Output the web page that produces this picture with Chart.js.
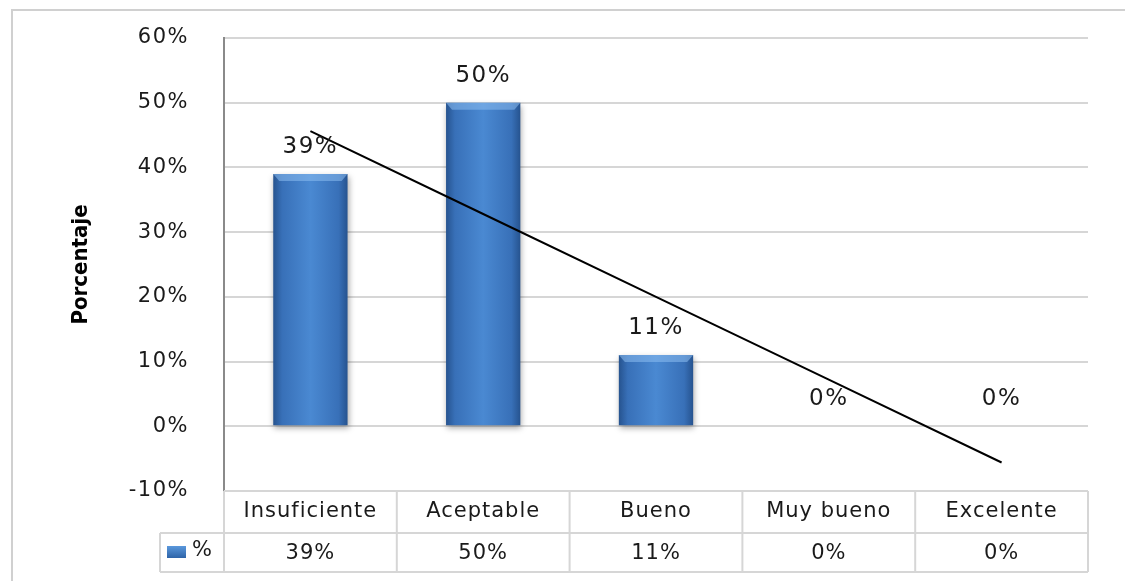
<!DOCTYPE html>
<html lang="es">
<head>
  <meta charset="UTF-8" />
  <title>Porcentaje por nivel</title>
  <script src="https://cdn.jsdelivr.net/npm/chart.js"></script>
  <style>
    html, body { margin: 0; padding: 0; background: #fff; }
    .grafico { position: relative; width: 1125px; height: 581px; }
  </style>
</head>
<body>
  <div class="grafico">
    <canvas id="grafico"></canvas>
  </div>

  <script>
    const categorias = ['Insuficiente', 'Aceptable', 'Bueno', 'Muy bueno', 'Excelente'];
    const porcentajes = [39, 50, 11, 0, 0];
    const serieNombre = '%';
    const tituloY = 'Porcentaje';
    const marcasY = [-10, 0, 10, 20, 30, 40, 50, 60];

    // tendencia lineal (como la de Excel) calculada sobre los datos
    const n = porcentajes.length;
    const mediaX = (n + 1) / 2;
    const mediaY = porcentajes.reduce((a, b) => a + b, 0) / n;
    let sxy = 0, sxx = 0;
    porcentajes.forEach((v, i) => {
      sxy += (i + 1 - mediaX) * (v - mediaY);
      sxx += (i + 1 - mediaX) * (i + 1 - mediaX);
    });
    const pendiente = sxy / sxx;
    const tendencia = porcentajes.map((v, i) => mediaY + pendiente * (i + 1 - mediaX));

    const fuente = "'DejaVu Sans', Verdana, sans-serif";
    const gris = '#d6d6d6';

    function colorBarra(ctx) {
      const c = ctx.chart;
      const area = c.chartArea;
      if (!area) return '#3c78c0';
      const x = c.scales.x.getPixelForValue(ctx.dataIndex);
      const ancho = (area.right - area.left) / n * 0.43;
      const g = c.ctx.createLinearGradient(x - ancho / 2, 0, x + ancho / 2, 0);
      g.addColorStop(0, '#26538f');
      g.addColorStop(0.12, '#3870b8');
      g.addColorStop(0.5, '#4a89d2');
      g.addColorStop(0.88, '#3870b8');
      g.addColorStop(1, '#26538f');
      return g;
    }

    const marco = {
      id: 'marco',
      beforeDraw(chart) {
        const ctx = chart.ctx;
        ctx.letterSpacing = '1.5px';
        ctx.save();
        ctx.strokeStyle = '#d0d0d0';
        ctx.lineWidth = 2;
        ctx.beginPath();
        ctx.moveTo(12, chart.height + 5);
        ctx.lineTo(12, 10);
        ctx.lineTo(chart.width + 5, 10);
        ctx.stroke();
        ctx.restore();
      },
      afterDraw(chart) {
        // titulo del eje vertical
        const ctx = chart.ctx;
        const area = chart.chartArea;
        ctx.save();
        ctx.letterSpacing = '0px';
        ctx.translate(81, (area.top + area.bottom) / 2);
        ctx.rotate(-Math.PI / 2);
        ctx.font = "bold 22px 'DejaVu Sans Condensed', 'DejaVu Sans', sans-serif";
        ctx.fillStyle = '#000';
        ctx.textAlign = 'center';
        ctx.textBaseline = 'middle';
        ctx.fillText(tituloY, 0, 0);
        ctx.restore();
      }
    };

    const sombra = {
      id: 'sombra',
      beforeDatasetDraw(chart, args) {
        if (args.index !== 0) return;
        const ctx = chart.ctx;
        ctx.save();
        ctx.shadowColor = 'rgba(0,0,0,0.35)';
        ctx.shadowBlur = 6;
        ctx.shadowOffsetY = 3;
        ctx.shadowOffsetX = 1;
      },
      afterDatasetDraw(chart, args) {
        if (args.index !== 0) return;
        const ctx = chart.ctx;
        ctx.restore();
        // borde superior claro
        chart.getDatasetMeta(0).data.forEach(b => {
          if (b.height < 2) return;
          const w = b.width, x0 = b.x - w / 2, y0 = b.y;
          ctx.save();
          ctx.fillStyle = 'rgba(140,190,240,0.55)';
          ctx.beginPath();
          ctx.moveTo(x0, y0);
          ctx.lineTo(x0 + w, y0);
          ctx.lineTo(x0 + w - 6, y0 + 7);
          ctx.lineTo(x0 + 6, y0 + 7);
          ctx.closePath();
          ctx.fill();
          ctx.restore();
        });
      }
    };

    const etiquetas = {
      id: 'etiquetas',
      afterDatasetsDraw(chart) {
        const ctx = chart.ctx;
        ctx.save();
        ctx.font = '23px ' + fuente;
        ctx.letterSpacing = '1.5px';
        ctx.fillStyle = '#1a1a1a';
        ctx.textAlign = 'center';
        ctx.textBaseline = 'middle';
        chart.getDatasetMeta(0).data.forEach((b, i) => {
          ctx.fillText(porcentajes[i] + '%', b.x, b.y - 27);
        });
        ctx.restore();
      }
    };

    const tabla = {
      id: 'tabla',
      afterDraw(chart) {
        const ctx = chart.ctx;
        const area = chart.chartArea;
        const xs = chart.scales.x;
        const paso = (area.right - area.left) / n;
        const y0 = area.bottom, y1 = y0 + 42, y2 = y1 + 39;
        const izq = 160;
        ctx.save();
        ctx.strokeStyle = gris;
        ctx.lineWidth = 2;
        ctx.beginPath();
        ctx.moveTo(area.left, y0); ctx.lineTo(area.right, y0);
        ctx.moveTo(izq, y1); ctx.lineTo(area.right, y1);
        ctx.moveTo(izq, y2); ctx.lineTo(area.right, y2);
        ctx.moveTo(izq, y1); ctx.lineTo(izq, y2);
        for (let i = 0; i <= n; i++) {
          const x = area.left + paso * i;
          ctx.moveTo(x, y0); ctx.lineTo(x, y2);
        }
        ctx.stroke();

        ctx.font = '21px ' + fuente;
        ctx.letterSpacing = '1px';
        ctx.fillStyle = '#1a1a1a';
        ctx.textAlign = 'center';
        ctx.textBaseline = 'middle';
        categorias.forEach((c, i) => {
          const x = xs.getPixelForValue(i);
          ctx.fillText(c, x, (y0 + y1) / 2);
          ctx.fillText(porcentajes[i] + '%', x, (y1 + y2) / 2 + 1);
        });

        // clave de la leyenda
        const g = ctx.createLinearGradient(0, y1 + 13, 0, y1 + 25);
        g.addColorStop(0, '#5a98dc');
        g.addColorStop(1, '#2e64a8');
        ctx.fillStyle = g;
        ctx.fillRect(167, y1 + 13, 19, 12);
        ctx.fillStyle = '#1a1a1a';
        ctx.textAlign = 'left';
        ctx.fillText(serieNombre, 192, (y1 + y2) / 2 - 2);
        ctx.restore();
      }
    };

    const ctx = document.getElementById('grafico');
    new Chart(ctx, {
      data: {
        labels: categorias,
        datasets: [
          {
            type: 'bar',
            label: serieNombre,
            data: porcentajes,
            backgroundColor: colorBarra,
            borderWidth: 0,
            categoryPercentage: 1,
            barPercentage: 0.43,
            order: 2
          },
          {
            type: 'line',
            label: 'Lineal (%)',
            data: tendencia,
            borderColor: '#000',
            borderWidth: 2,
            pointRadius: 0,
            tension: 0,
            fill: false,
            order: 1
          }
        ]
      },
      options: {
        responsive: true,
        maintainAspectRatio: false,
        animation: false,
        layout: { padding: { left: 11, top: 38, right: 37, bottom: 90 } },
        plugins: {
          legend: { display: false },
          tooltip: { enabled: false }
        },
        scales: {
          x: { display: false },
          y: {
            min: -10,
            max: 60,
            afterFit: s => { s.width = 213; s.paddingTop = 0; s.paddingBottom = 0; },
            afterBuildTicks: s => { s.ticks = marcasY.map(v => ({ value: v })); },
            ticks: {
              stepSize: 10,
              padding: 35,
              color: '#1a1a1a',
              font: { family: fuente, size: 21 },
              callback: v => v + '%'
            },
            grid: { color: gris, lineWidth: 2, drawTicks: false },
            border: { display: true, color: '#8a8a8a', width: 2 }
          }
        }
      },
      plugins: [marco, sombra, etiquetas, tabla]
    });
  </script>
</body>
</html>
